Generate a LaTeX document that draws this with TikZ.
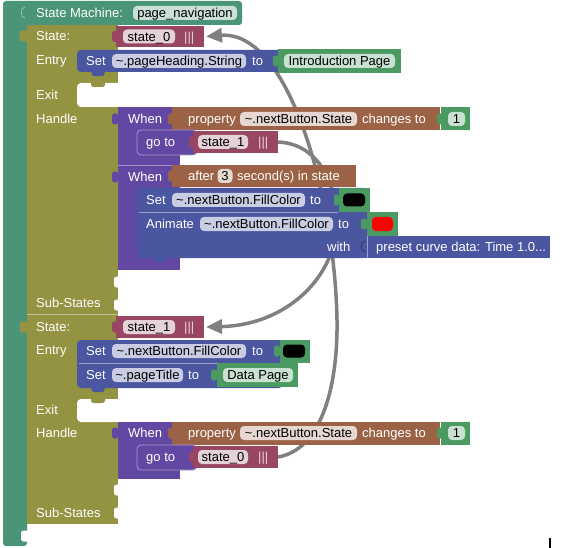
\documentclass[tikz,border=0pt]{standalone}
\usepackage{fontspec}
\setmainfont{Liberation Sans}
\usetikzlibrary{arrows.meta,positioning,backgrounds}
\definecolor{smteal}{RGB}{74,148,120}
\definecolor{stolive}{RGB}{147,147,65}
\definecolor{stmaroon}{RGB}{152,70,98}
\definecolor{setnavy}{RGB}{74,86,160}
\definecolor{whenpurple}{RGB}{98,72,162}
\definecolor{propbrown}{RGB}{155,98,70}
\definecolor{valgreen}{RGB}{74,154,98}
\definecolor{linkgray}{RGB}{128,128,128}
\newcommand{\blkfont}{\fontsize{13}{15}\selectfont}
\tikzset{
  blk/.style={inner sep=0pt, outer sep=0pt, anchor=north west},
  stmt/.style={blk, rounded corners=4pt},
  fld/.style={rounded corners=4pt, inner sep=0pt, minimum height=14pt,
    font=\blkfont, text=black, text height=9.3pt, text depth=0pt},
  lbl/.style={anchor=west, inner sep=0pt, text=white, font=\blkfont,
    text height=9.3pt, text depth=0pt},
  tab/.style={rounded corners=2.5pt, inner sep=0pt, minimum width=6pt, minimum height=11pt},
  sep/.style={line width=0.7pt},
  link/.style={draw=linkgray, line width=3.5pt, -{Triangle[length=16pt,width=14pt]}}
}
\begin{document}
\begin{tikzpicture}[x=1pt,y=-1pt]
\useasboundingbox (0,0) rectangle (562,548);

% State machine frame
\fill[smteal, rounded corners=3pt] (3,1) -- (242,1) -- (242,25) -- (27,25) -- (27,546) -- (3,546) -- cycle;
\draw[smteal!55!white, line width=0.8pt] (25,7) .. controls (20,7) and (20,18) .. (25,18);
\node[tab, fill=white, minimum width=8pt] (smend) at (25,536) {};
\node[lbl] (smlbl) at (36,13) {State Machine:};
\node[fld, fill=smteal!30!white, minimum width=104pt] (smname) at (185,13) {page\_navigation};

% State 1 body
\fill[stolive] (27,25) rectangle (118,314);
\node[tab, fill=stolive, minimum width=9pt] (s1tab) at (24,36) {};
\fill[white, rounded corners=4pt] (77,83) rectangle (135,107);
\node[tab, fill=stolive, minimum width=14pt, minimum height=8pt] (s1exit) at (98,83) {};
\node[tab, fill=white] (s1sub1) at (117,282) {};
\node[tab, fill=white] (s1sub2) at (117,305) {};
\node[lbl] (s1lbl) at (36,36) {State:};
\node[lbl] (s1entry) at (36,60) {Entry};
\node[lbl] (s1exitlbl) at (36,95) {Exit};
\node[lbl] (s1handle) at (36,119) {Handle};
\node[lbl] (s1subs) at (36,303) {Sub-States};

% State 1 name
\node[tab, fill=stmaroon] (st0tab) at (115,36.5) {};
\node[blk, fill=stmaroon, minimum width=88pt, minimum height=21pt] (st0) at (116,26) {};
\node[fld, fill=stmaroon!25!white, minimum width=52pt] (st0fld) at (149,36.5) {state\_0};
\node[lbl, text=stmaroon!25!white] (st0bars) at (184,36.5) {|||};

% State 1 entry
\node[tab, fill=setnavy, minimum width=13pt, minimum height=8pt] (set1n) at (98,72) {};
\node[stmt, fill=setnavy, minimum width=205pt, minimum height=22pt] (set1) at (77,50) {};
\node[lbl] (set1lbl) at (86,61) {Set};
\node[fld, fill=setnavy!30!white, minimum width=134pt] (set1fld) at (179,61) {\textasciitilde.pageHeading.String};
\node[lbl] (set1to) at (252,61) {to};
\node[tab, fill=valgreen] (introtab) at (276,61) {};
\node[blk, fill=valgreen, minimum width=123pt, minimum height=24pt] (intro) at (278,49) {};
\node[fld, fill=valgreen!30!white, minimum width=111pt] (introfld) at (339.5,61) {Introduction Page};

% State 1 handler: property change
\node[tab, fill=whenpurple] (w1tab) at (115,119) {};
\node[blk, fill=whenpurple, minimum width=62pt, minimum height=58pt] (when1) at (118,107) {};
\node[lbl] (w1lbl) at (128,119) {When};
\node[tab, fill=propbrown] (p1tab) at (171,119) {};
\node[blk, fill=propbrown, minimum width=268pt, minimum height=23pt] (prop1) at (172,107) {};
\node[lbl] (p1lbl) at (188,119) {property};
\node[fld, fill=propbrown!25!white, minimum width=117pt] (p1fld) at (298.5,119) {\textasciitilde.nextButton.State};
\node[lbl] (p1chg) at (362,119) {changes to};
\node[tab, fill=valgreen] (one1tab) at (440,119) {};
\node[blk, fill=valgreen, minimum width=29pt, minimum height=23pt] (one1) at (441,107) {};
\node[fld, fill=valgreen!30!white, minimum width=17pt] (one1fld) at (456.5,119) {1};
\node[stmt, fill=whenpurple, draw=whenpurple!55!white, line width=0.8pt, minimum width=60pt, minimum height=25pt] (goto1) at (137,130) {};
\node[lbl] (g1lbl) at (146,142) {go to};
\node[tab, fill=stmaroon] (gt1tab) at (192,142) {};
\node[blk, fill=stmaroon, minimum width=85pt, minimum height=22pt] (gt1st) at (193,131) {};
\node[fld, fill=stmaroon!25!white, minimum width=50pt] (gt1fld) at (223,142) {state\_1};
\node[lbl, text=stmaroon!25!white] (gt1bars) at (258,142) {|||};

% State 1 handler: timer
\node[tab, fill=whenpurple] (w2tab) at (115,177) {};
\node[blk, fill=whenpurple, minimum width=62pt, minimum height=105pt] (when2) at (118,165) {};
\draw[whenpurple!60!white, sep] (when2.north west) -- (when2.north east);
\node[lbl] (w2lbl) at (128,177) {When};
\node[tab, fill=propbrown] (a1tab) at (171,176) {};
\node[blk, fill=propbrown, minimum width=184pt, minimum height=22pt] (after1) at (172,165) {};
\node[lbl] (a1lbl) at (188,176) {after};
\node[fld, fill=propbrown!25!white, minimum width=15pt] (a1fld) at (225,176) {3};
\node[lbl] (a1sec) at (237,176) {second(s) in state};
\node[tab, fill=setnavy, minimum width=12pt, minimum height=8pt] (animn) at (160,258) {};
\node[stmt, fill=setnavy, minimum width=230pt, minimum height=70pt] (anim) at (137,188) {};
\draw[setnavy!55!white, sep] (139,212) -- (338,212);
\node[lbl] (s2lbl) at (146,200) {Set};
\node[fld, fill=setnavy!30!white, minimum width=133pt] (s2fld) at (238.5,200) {\textasciitilde.nextButton.FillColor};
\node[lbl] (s2to) at (310,200) {to};
\node[tab, fill=valgreen] (c1tab) at (337,200) {};
\node[blk, fill=valgreen, minimum width=31pt, minimum height=24pt] (c1) at (339,188) {};
\node[fld, fill=black, minimum width=22pt, minimum height=13pt] (c1sw) at (354,200) {};
\node[lbl] (anlbl) at (146,224) {Animate};
\node[fld, fill=setnavy!30!white, minimum width=133pt] (anfld) at (266.5,224) {\textasciitilde.nextButton.FillColor};
\node[lbl] (anto) at (338,224) {to};
\node[tab, fill=valgreen] (c2tab) at (364,224) {};
\node[blk, fill=valgreen, minimum width=31pt, minimum height=24pt] (c2) at (367,212) {};
\node[fld, fill=red, minimum width=21pt, minimum height=14pt] (c2sw) at (382.5,224) {};
\node[lbl] (anwith) at (327,247) {with};
\node[blk, fill=setnavy, minimum width=186pt, minimum height=22pt] (preset) at (364,236) {};
\draw[setnavy!55!white, sep] (367,236) -- (367,258);
\draw[setnavy!60!black, line width=0.8pt] (365,241) .. controls (360,241) and (360,252) .. (365,252);
\node[lbl] (prelbl) at (376,247) {preset curve data: Time 1.0...};

% State 2 body
\fill[stolive] (27,314) rectangle (118,524);
\draw[stolive!55!white, sep] (27,314) -- (118,314);
\node[tab, fill=stolive, minimum width=9pt] (s2tab) at (24,327) {};
\fill[white, rounded corners=4pt] (77,399) rectangle (135,422);
\node[tab, fill=stolive, minimum width=14pt, minimum height=8pt] (s2exit) at (98,399) {};
\node[tab, fill=white] (s2sub1) at (117,490) {};
\node[tab, fill=white] (s2sub2) at (117,513) {};
\node[lbl] (t2lbl) at (36,327) {State:};
\node[lbl] (t2entry) at (36,350) {Entry};
\node[lbl] (t2exitlbl) at (36,410) {Exit};
\node[lbl] (t2handle) at (36,433) {Handle};
\node[lbl] (t2subs) at (36,513) {Sub-States};

% State 2 name
\node[tab, fill=stmaroon] (st1tab) at (115,327) {};
\node[blk, fill=stmaroon, minimum width=88pt, minimum height=22pt] (st1) at (116,316) {};
\node[fld, fill=stmaroon!25!white, minimum width=52pt] (st1fld) at (149,327) {state\_1};
\node[lbl, text=stmaroon!25!white] (st1bars) at (184,327) {|||};

% State 2 entry
\node[tab, fill=setnavy, minimum width=13pt, minimum height=8pt] (set3n) at (98,388) {};
\node[stmt, fill=setnavy, minimum width=206pt, minimum height=48pt] (set3) at (77,340) {};
\draw[setnavy!55!white, sep] (79,363) -- (217,363);
\node[lbl] (set3lbl) at (86,351) {Set};
\node[fld, fill=setnavy!30!white, minimum width=134pt] (set3fld) at (179,351) {\textasciitilde.nextButton.FillColor};
\node[lbl] (set3to) at (252,351) {to};
\node[tab, fill=valgreen] (c3tab) at (277,351) {};
\node[blk, fill=valgreen, minimum width=30pt, minimum height=23pt] (c3) at (280,340) {};
\node[fld, fill=black, minimum width=22pt, minimum height=13pt] (c3sw) at (294,351) {};
\node[lbl] (set4lbl) at (86,375) {Set};
\node[fld, fill=setnavy!30!white, minimum width=71pt] (set4fld) at (147.5,375) {\textasciitilde.pageTitle};
\node[lbl] (set4to) at (188,375) {to};
\node[tab, fill=valgreen] (datatab) at (214,375) {};
\node[blk, fill=valgreen, minimum width=81pt, minimum height=24pt] (data) at (217,363) {};
\node[fld, fill=valgreen!30!white, minimum width=70pt] (datafld) at (258,375) {Data Page};

% State 2 handler: property change
\node[tab, fill=whenpurple] (w3tab) at (115,433) {};
\node[blk, fill=whenpurple, minimum width=62pt, minimum height=57pt] (when3) at (118,422) {};
\node[lbl] (w3lbl) at (128,433) {When};
\node[tab, fill=propbrown] (p2tab) at (171,433) {};
\node[blk, fill=propbrown, minimum width=268pt, minimum height=23pt] (prop2) at (172,422) {};
\node[lbl] (p2lbl) at (188,433) {property};
\node[fld, fill=propbrown!25!white, minimum width=117pt] (p2fld) at (298.5,433) {\textasciitilde.nextButton.State};
\node[lbl] (p2chg) at (362,433) {changes to};
\node[tab, fill=valgreen] (one2tab) at (440,433) {};
\node[blk, fill=valgreen, minimum width=29pt, minimum height=23pt] (one2) at (441,422) {};
\node[fld, fill=valgreen!30!white, minimum width=17pt] (one2fld) at (456.5,433) {1};
\node[stmt, fill=whenpurple, draw=whenpurple!55!white, line width=0.8pt, minimum width=60pt, minimum height=25pt] (goto2) at (137,445) {};
\node[lbl] (g2lbl) at (146,457) {go to};
\node[tab, fill=stmaroon] (gt2tab) at (192,457) {};
\node[blk, fill=stmaroon, minimum width=85pt, minimum height=22pt] (gt2st) at (193,446) {};
\node[fld, fill=stmaroon!25!white, minimum width=50pt] (gt2fld) at (223,457) {state\_0};
\node[lbl, text=stmaroon!25!white] (gt2bars) at (258,457) {|||};

\draw[line width=1.4pt] (550,538) -- (550,548);

% Transition links, behind the blocks
\begin{pgfonlayer}{background}
\fill[white] (0,0) rectangle (562,548);
\draw[link] (gt2st.east) .. controls (320,450) and (338,390) .. (337,320)
  .. controls (335,200) and (290,30) .. ([xshift=2pt]st0.east);
\draw[link] (gt1st.east) .. controls (322,144) and (340,190) .. (335,235)
  .. controls (330,280) and (285,325) .. ([xshift=2pt]st1.east);
\end{pgfonlayer}

\end{tikzpicture}
\end{document}
